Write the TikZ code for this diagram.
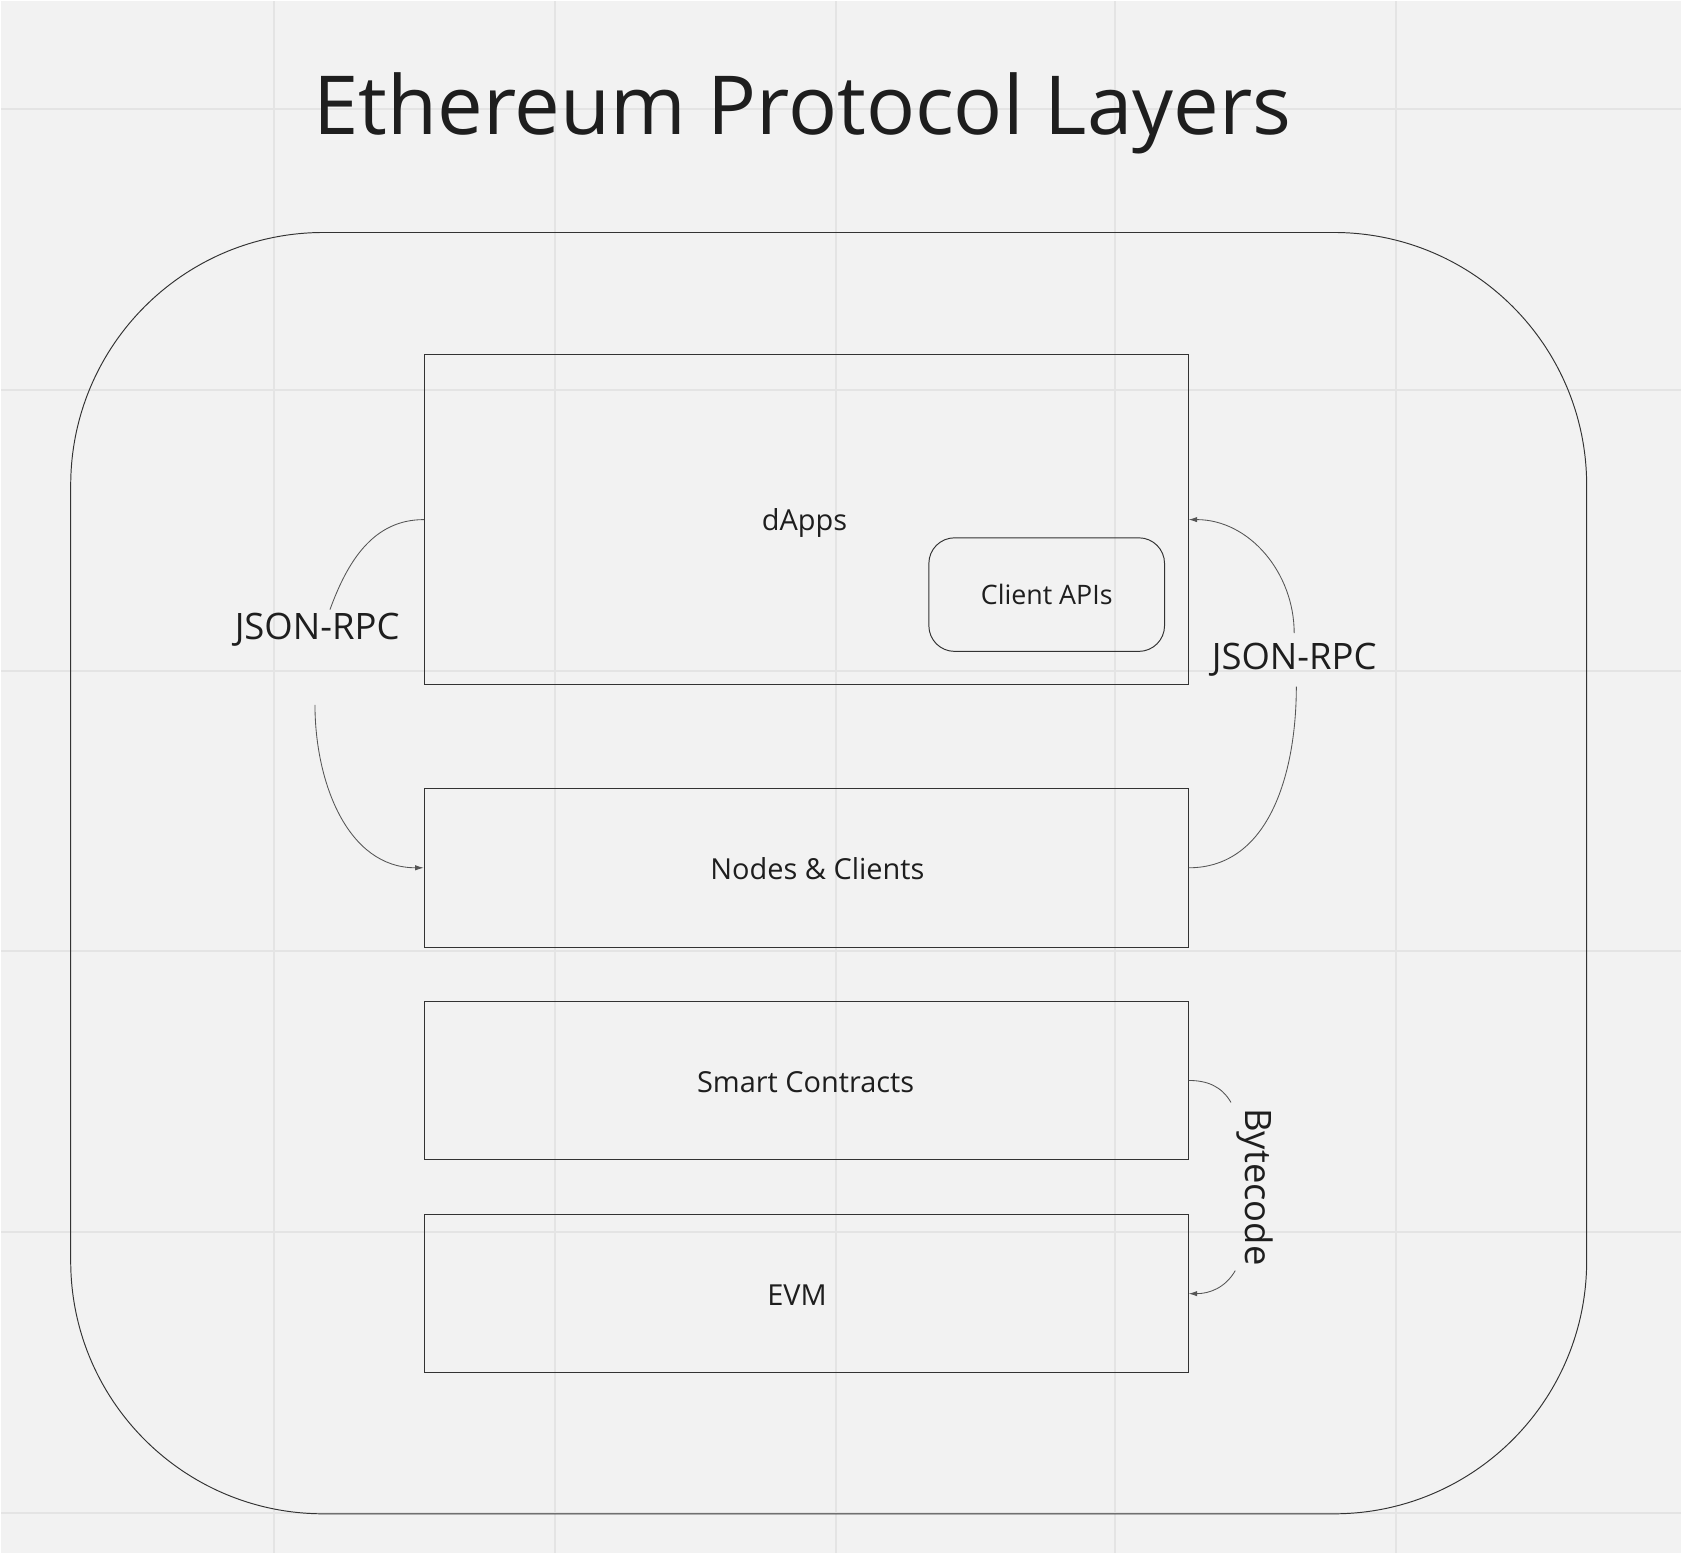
\documentclass[tikz,border=0pt]{standalone}
\usepackage{fontspec}
\setmainfont{Open Sans}
\usetikzlibrary{arrows.meta}
\definecolor{paper}{HTML}{F2F2F2}
\definecolor{gridline}{HTML}{E4E4E4}
\definecolor{boxline}{HTML}{333333}
\definecolor{wire}{HTML}{555555}
\definecolor{ink}{HTML}{1E1E1E}
\begin{document}
\begin{tikzpicture}[x=1pt, y=-1pt,
    layer/.style={draw=boxline, line width=0.9pt, minimum width=713pt},
    layertext/.style={text=ink, font=\fontsize{27}{32}\selectfont},
    api/.style={draw=boxline, line width=0.9pt, rounded corners=24pt, minimum width=220pt,
        minimum height=106pt, text=ink, font=\fontsize{25}{30}\selectfont},
    tag/.style={text=ink, font=\fontsize{34}{40}\selectfont},
    wiring/.style={draw=wire, line width=0.8pt},
    tip/.style={-{Latex[length=8pt, width=5pt]}}]
    % canvas and grid
    \fill[paper] (0, 0) rectangle (1568, 1449);
    \foreach \gx in {255, 517, 779, 1040, 1302}
        \draw[gridline, line width=2pt] (\gx, 0) -- (\gx, 1449);
    \foreach \gy in {101, 363, 625, 887, 1149, 1411}
        \draw[gridline, line width=2pt] (0, \gy) -- (1568, \gy);
    \useasboundingbox (0, 0) rectangle (1568, 1449);
    \node[text=ink, font=\fontsize{76}{88}\selectfont] (title) at (748, 105) {Ethereum Protocol Layers};
    \draw[boxline, line width=0.9pt, rounded corners=236pt] (65, 216) rectangle (1480, 1412);
    % layers
    \node[layer, minimum height=308pt] (dapps) at (751.5, 484) {};
    \node[layertext] (dappstext) at (750, 487) {dApps};
    \node[api] (apis) at (976, 554) {Client APIs};
    \node[layer, minimum height=148pt] (nodes) at (751.5, 809) {};
    \node[layertext] (nodestext) at (762, 810) {Nodes \& Clients};
    \node[layer, minimum height=147pt] (contracts) at (751.5, 1007.5) {};
    \node[layertext] (contractstext) at (751, 1009) {Smart Contracts};
    \node[layer, minimum height=147pt] (evm) at (751.5, 1206.5) {};
    \node[layertext] (evmtext) at (743, 1208) {EVM};
    % connectors
    \node[tag] (rpcleft) at (295, 587) {JSON-RPC};
    \node[tag] (rpcright) at (1207, 615) {JSON-RPC};
    \node[tag, rotate=-90] (bytecode) at (1170, 1107) {Bytecode};
    \coordinate (rpcleftin) at (307, 568);
    \coordinate (rpcleftout) at (293, 657);
    \coordinate (rpcrightin) at (1209, 640);
    \coordinate (rpcrightout) at (1207, 590);
    \coordinate (bytein) at (1148, 1028);
    \coordinate (byteout) at (1152, 1185);
    \draw[wiring] (dapps.west) to[out=180, in=70] (rpcleftin);
    \draw[wiring, tip] (rpcleftout) to[out=-90, in=180] (nodes.west);
    \draw[wiring] (nodes.east) to[out=0, in=-90] (rpcrightin);
    \draw[wiring, tip] (rpcrightout) to[out=90, in=0] (dapps.east);
    \draw[wiring] (contracts.east) to[out=0, in=120] (bytein);
    \draw[wiring, tip] (byteout) to[out=-120, in=0] (evm.east);
\end{tikzpicture}
\end{document}
